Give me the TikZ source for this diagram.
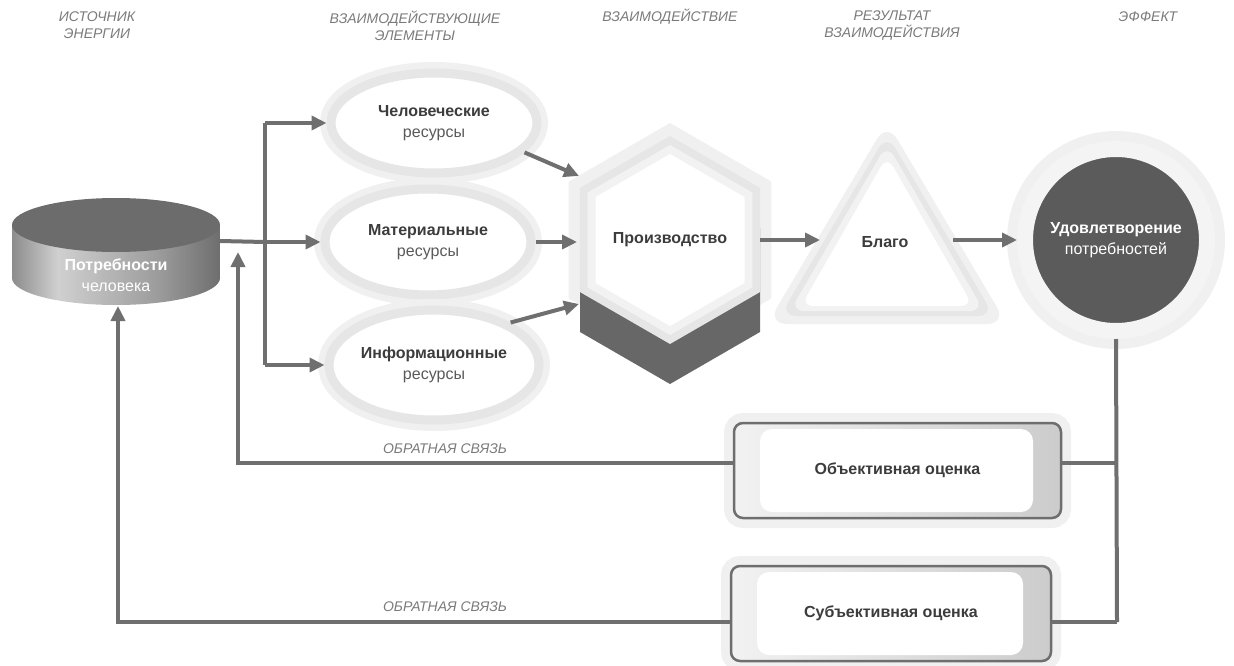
\documentclass[tikz,border=0pt]{standalone}
\usepackage{fontspec}
\setmainfont{Liberation Sans}
\usetikzlibrary{arrows.meta,shapes.geometric,calc}
\definecolor{lc}{HTML}{6F6F6F}
\definecolor{txt}{HTML}{3C3C3C}
\definecolor{txt2}{HTML}{5A5A5A}
\definecolor{hdr}{HTML}{7A7A7A}
\definecolor{ring}{HTML}{E6E6E6}
\definecolor{ringin}{HTML}{F2F2F2}
\definecolor{halo}{HTML}{F0F0F0}
\definecolor{dark}{HTML}{5B5B5B}
\definecolor{cyltop}{HTML}{6C6C6C}
\definecolor{shad}{HTML}{676767}
\definecolor{boxedge}{HTML}{6E6E6E}
\definecolor{effring}{HTML}{F4F4F4}
\definecolor{cA}{HTML}{8C8C8C}
\definecolor{cB}{HTML}{D0D0D0}
\definecolor{cC}{HTML}{9C9C9C}
\definecolor{cD}{HTML}{6E6E6E}
\pgfdeclarehorizontalshading{cylside}{100bp}{color(0bp)=(cA); color(25bp)=(cA); color(36bp)=(cB); color(60bp)=(cC); color(75bp)=(cD); color(100bp)=(cD)}
\begin{document}
\begin{tikzpicture}[x=1pt,y=-1pt,
  hdrtext/.style={font=\fontsize{14}{17}\selectfont\itshape, text=hdr, align=center, inner sep=0pt},
  fbtext/.style={font=\fontsize{14}{16}\selectfont\itshape, text=hdr, inner sep=0pt},
  ln/.style={draw=lc, line width=4pt},
  arr/.style={ln, -{Triangle[length=15pt,width=14pt]}},
  res/.style={ellipse, fill=white, draw=ring, line width=9pt, inner sep=0pt, align=center, text=txt,
    font=\fontsize{16}{21}\selectfont, preaction={draw=halo, line width=22pt}},
  evalbox/.style={rectangle, rounded corners=9pt, draw=boxedge, line width=2.5pt,
    left color=ringin, right color=black!20, minimum width=327pt, minimum height=95pt,
    font=\bfseries\fontsize{16}{18}\selectfont, text=txt,
    preaction={draw=halo, line width=20pt},
    path picture={\fill[white, rounded corners=12pt]
      ([xshift=26pt,yshift=-6pt]path picture bounding box.north west) rectangle
      ([xshift=-28pt,yshift=6pt]path picture bounding box.south east);}},
  lbl/.style={font=\bfseries\fontsize{16}{21}\selectfont, text=txt, align=center, inner sep=0pt}
]
\useasboundingbox (0,0) rectangle (1234,666);

% headers
\node[hdrtext] (h1) at (97,25.5) {ИСТОЧНИК\\ЭНЕРГИИ};
\node[hdrtext] (h2) at (415,25.5) {ВЗАИМОДЕЙСТВУЮЩИЕ\\ЭЛЕМЕНТЫ};
\node[hdrtext] (h3) at (670,17) {ВЗАИМОДЕЙСТВИЕ};
\node[hdrtext] (h4) at (892,25.5) {РЕЗУЛЬТАТ\\ВЗАИМОДЕЙСТВИЯ};
\node[hdrtext] (h5) at (1148,17) {ЭФФЕКТ};

% cylinder
\shade[shading=cylside] (12,225) -- (12,278) arc[start angle=180, end angle=0, x radius=104, y radius=27] -- (220,225) -- cycle;
\fill[cyltop] (116,225) ellipse[x radius=104, y radius=27];
\node[font=\fontsize{16}{21}\selectfont, text=white, align=center, inner sep=0pt] (cyl) at (116,275) {\textbf{Потребности}\\человека};
\coordinate (cylR) at (220,241);
\coordinate (cylB) at (118,306);

% resources
\node[res, minimum width=206pt, minimum height=100pt] (hum) at (434,123) {\textbf{Человеческие}\\\textcolor{txt2}{ресурсы}};
\node[res, minimum width=206pt, minimum height=106pt] (mat) at (428,242) {\textbf{Материальные}\\\textcolor{txt2}{ресурсы}};
\node[res, minimum width=210pt, minimum height=110pt] (inf) at (434,365) {\textbf{Информационные}\\\textcolor{txt2}{ресурсы}};

% hexagon
\fill[halo] (670,123) -- (568.7,181.5) -- (568.7,298.5) -- (670,357) -- (771.3,298.5) -- (771.3,181.5) -- cycle;
\fill[shad] (670,176) -- (580,228) -- (580,332) -- (670,384) -- (760,332) -- (760,228) -- cycle;
\fill[ring] (670,136) -- (579.9,188) -- (579.9,292) -- (670,344) -- (760.1,292) -- (760.1,188) -- cycle;
\fill[ringin] (670,145) -- (587.7,192.5) -- (587.7,287.5) -- (670,335) -- (752.3,287.5) -- (752.3,192.5) -- cycle;
\fill[white] (670,154) -- (595.5,197) -- (595.5,283) -- (670,326) -- (744.5,283) -- (744.5,197) -- cycle;
\node[lbl] (prod) at (670,240) {Производство};
\coordinate (hexA) at (579,176);
\coordinate (hexM) at (577,242);
\coordinate (hexB) at (579,304);
\coordinate (hexR) at (760,240);

% triangle
\fill[halo, rounded corners=20pt] (887,122) -- (767,324) -- (1007,324) -- cycle;
\fill[ring, rounded corners=16pt] (887,134) -- (780,316) -- (994,316) -- cycle;
\fill[ringin, rounded corners=14pt] (887,144) -- (790,311) -- (984,311) -- cycle;
\fill[white, rounded corners=12pt] (887,156) -- (801,306) -- (973,306) -- cycle;
\node[lbl] (good) at (885,242) {Благо};
\coordinate (triL) at (820,240);
\coordinate (triR) at (953,240);

% effect circle
\node[circle, fill=dark, draw=effring, line width=16pt, minimum size=182pt, inner sep=0pt,
  text=white, align=center, font=\fontsize{16}{21}\selectfont,
  preaction={draw=halo, line width=36pt}] (eff) at (1116,240) {\textbf{Удовлетворение}\\потребностей};

% evaluation boxes
\node[evalbox] (obj) at (897.5,470.5) {Объективная оценка};
\node[evalbox, minimum width=320pt] (sub) at (891,613.5) {Субъективная оценка};

% coordinates of connectors
\coordinate (tTop) at (265,123);
\coordinate (tMid) at (265,242);
\coordinate (tBot) at (265,365);
\coordinate (vObj) at (1117,463);
\coordinate (vBot) at (1117,622);
\coordinate (fbA) at (238,463);
\coordinate (fbAtop) at (238,252);
\coordinate (fbB) at (118,622);

% connectors
\draw[ln] (cylR) -- (tMid);
\draw[ln] (tTop) -- (tBot);
\draw[arr] (tTop) -- (hum.west);
\draw[arr] (tMid) -- (mat.west);
\draw[arr] (tBot) -- (inf.west);
\draw[arr] (hum.-18) -- (hexA);
\draw[arr] (mat.east) -- (hexM);
\draw[arr] (inf.29) -- (hexB);
\draw[arr] (hexR) -- (triL);
\draw[arr] (triR) -- (eff.west);
\draw[ln] (eff.south) -- (vBot);
\draw[ln] (vObj) -- (obj.east |- vObj);
\draw[ln] (vBot) -- (sub.east |- vBot);
\draw[arr] (obj.west |- vObj) -- (fbA) -- (fbAtop);
\draw[arr] (sub.west |- vBot) -- (fbB) -- (cylB);

% feedback labels
\node[fbtext] (fb1) at (445,449) {ОБРАТНАЯ СВЯЗЬ};
\node[fbtext] (fb2) at (445,607) {ОБРАТНАЯ СВЯЗЬ};
\end{tikzpicture}
\end{document}
